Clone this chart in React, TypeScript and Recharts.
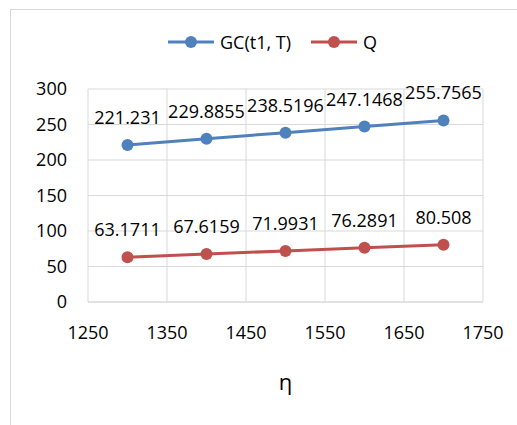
import React from "react";
import {
  LineChart,
  Line,
  XAxis,
  YAxis,
  CartesianGrid,
  LabelList,
  Label,
} from "recharts";

const ETA = [1300, 1400, 1500, 1600, 1700];
const GC = [221.231, 229.8855, 238.5196, 247.1468, 255.7565];
const Q = [63.1711, 67.6159, 71.9931, 76.2891, 80.508];
const X_TICKS = [1250, 1350, 1450, 1550, 1650, 1750];
const Y_TICKS = [0, 50, 100, 150, 200, 250, 300];

const SERIES = [
  { key: "gc", label: "GC(t1, T)", color: "#4F81BD" },
  { key: "q", label: "Q", color: "#C0504D" },
];

const data = ETA.map((eta, i) => ({ eta, gc: GC[i], q: Q[i] }));

const FONT = "'Open Sans', sans-serif";
const GRID = "#d9d9d9";

function ChartLegend() {
  return (
    <div
      style={{
        position: "absolute",
        left: 168,
        top: 30,
        display: "flex",
        alignItems: "center",
        fontFamily: FONT,
        fontSize: 18,
        color: "#000",
      }}
    >
      {SERIES.map((s) => (
        <div
          key={s.key}
          style={{ display: "flex", alignItems: "center", marginRight: 20 }}
        >
          <svg width={46} height={14} style={{ marginRight: 6 }}>
            <line x1={0} y1={7} x2={46} y2={7} stroke={s.color} strokeWidth={3} />
            <circle cx={23} cy={7} r={6} fill={s.color} />
          </svg>
          <span>{s.label}</span>
        </div>
      ))}
    </div>
  );
}

export default function App() {
  return (
    <div
      style={{
        position: "fixed",
        left: 0,
        top: 0,
        width: 517,
        height: 425,
        overflow: "hidden",
        background: "#fff",
      }}
    >
      <div
        style={{
          position: "absolute",
          left: 10,
          top: 9,
          width: 600,
          height: 500,
          border: `1px solid ${GRID}`,
        }}
      />
      <LineChart
        width={517}
        height={425}
        data={data}
        margin={{ top: 89, right: 34, left: 0, bottom: 35 }}
        style={{ position: "absolute", left: 0, top: 0 }}
      >
        <CartesianGrid stroke={GRID} strokeWidth={1} />
        <XAxis
          dataKey="eta"
          type="number"
          domain={[1250, 1750]}
          ticks={X_TICKS}
          tickLine={false}
          tickSize={0}
          tickMargin={24}
          axisLine={{ stroke: GRID }}
          tick={{ fill: "#000", fontSize: 18, fontFamily: FONT }}
          height={88}
        >
          <Label
            value="η"
            position="insideBottom"
            offset={0}
            style={{ fill: "#000", fontSize: 22, fontFamily: FONT }}
          />
        </XAxis>
        <YAxis
          domain={[0, 300]}
          ticks={Y_TICKS}
          width={88}
          tickLine={false}
          tickSize={0}
          tickMargin={21}
          axisLine={false}
          tick={{ fill: "#000", fontSize: 18, fontFamily: FONT }}
        />
        {SERIES.map((s) => (
          <Line
            key={s.key}
            dataKey={s.key}
            name={s.label}
            stroke={s.color}
            strokeWidth={3}
            dot={{ r: 6, fill: s.color, stroke: s.color, strokeWidth: 0 }}
            isAnimationActive={false}
          >
            <LabelList
              dataKey={s.key}
              position="top"
              offset={21}
              style={{ fill: "#000", fontSize: 18, fontFamily: FONT }}
            />
          </Line>
        ))}
      </LineChart>
      <ChartLegend />
    </div>
  );
}
